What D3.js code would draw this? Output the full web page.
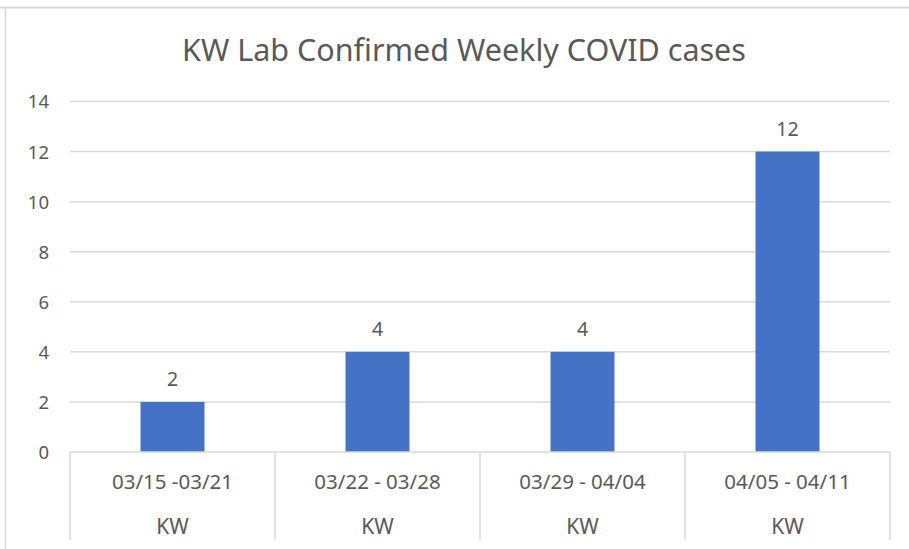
<!DOCTYPE html>
<html>
<head>
<meta charset="utf-8">
<script src="https://cdn.jsdelivr.net/npm/d3@7"></script>
<style>
  body { margin: 0; background: #fff; }
  text { font-family: "Noto Sans", sans-serif; fill: #595959; }
</style>
</head>
<body>
<div id="canvas"></div>
<script>
"use strict"

/* chart values */
const weeks = ["03/15 -03/21", "03/22 - 03/28", "03/29 - 04/04", "04/05 - 04/11"];
const groups = ["KW", "KW", "KW", "KW"];
const cases = [2, 4, 4, 12];
const yTicks = [0, 2, 4, 6, 8, 10, 12, 14];
const title = "KW Lab Confirmed Weekly COVID cases";

let drawing = d3.select("#canvas")
    .append("svg")
    .attr("width", 909)
    .attr("height", 549);

/* chart area border (only top and left show in the crop) */
drawing.append("line")
    .attr("x1", 0).attr("y1", 7.5).attr("x2", 909).attr("y2", 7.5)
    .attr("stroke", "#d9d9d9").attr("stroke-width", 2);
drawing.append("line")
    .attr("x1", 5.5).attr("y1", 7).attr("x2", 5.5).attr("y2", 549)
    .attr("stroke", "#d9d9d9").attr("stroke-width", 1.5);

/* scales */
let x = d3.scaleBand()
    .domain(weeks)
    .range([70, 890])
    .padding(0);

let y = d3.scaleLinear()
    .domain([0, 14])
    .range([452, 101.5]);

/* title */
drawing.append("text")
    .attr("x", 464)
    .attr("y", 61)
    .attr("text-anchor", "middle")
    .attr("font-size", 30.5)
    .text(title);

/* gridlines */
drawing.append("g")
    .selectAll("line")
    .data(yTicks.filter(d => d > 0))
    .join("line")
    .attr("x1", 70)
    .attr("x2", 890)
    .attr("y1", d => y(d))
    .attr("y2", d => y(d))
    .attr("stroke", "#d9d9d9")
    .attr("stroke-width", 1.5);

/* y axis labels */
let yAxis = drawing.append("g")
    .attr("transform", "translate(49,0)")
    .call(d3.axisLeft(y).tickValues(yTicks).tickSize(0).tickPadding(0));
yAxis.select(".domain").remove();
yAxis.selectAll("text")
    .attr("font-size", 18.5)
    .attr("text-anchor", "end")
    .attr("dy", "0.35em")
    .style("font-family", "'Noto Sans', sans-serif")
    .attr("fill", "#595959");

/* bars */
let barWidth = x.bandwidth() * 0.312;
drawing.append("g")
    .selectAll("rect")
    .data(cases)
    .join("rect")
    .attr("x", (d, i) => x(weeks[i]) + x.bandwidth() / 2 - barWidth / 2)
    .attr("y", d => y(d))
    .attr("width", barWidth)
    .attr("height", d => y(0) - y(d))
    .attr("fill", "#4472c4");

/* data labels */
drawing.append("g")
    .selectAll("text")
    .data(cases)
    .join("text")
    .attr("x", (d, i) => x(weeks[i]) + x.bandwidth() / 2)
    .attr("y", d => y(d) - 16)
    .attr("text-anchor", "middle")
    .attr("font-size", 19.5)
    .text(d => d);

/* horizontal axis line */
drawing.append("line")
    .attr("x1", 70).attr("x2", 890)
    .attr("y1", y(0)).attr("y2", y(0))
    .attr("stroke", "#d9d9d9")
    .attr("stroke-width", 1.5);

/* category separators */
let edges = weeks.map(w => x(w)).concat([x(weeks[weeks.length - 1]) + x.bandwidth()]);
drawing.append("g")
    .selectAll("line")
    .data(edges)
    .join("line")
    .attr("x1", d => d).attr("x2", d => d)
    .attr("y1", y(0)).attr("y2", 540)
    .attr("stroke", "#d9d9d9")
    .attr("stroke-width", 1.5);

/* category labels, two levels */
drawing.append("g")
    .selectAll("text")
    .data(weeks)
    .join("text")
    .attr("x", d => x(d) + x.bandwidth() / 2)
    .attr("y", 489)
    .attr("text-anchor", "middle")
    .attr("font-size", 20.5)
    .text(d => d);

drawing.append("g")
    .selectAll("text")
    .data(groups)
    .join("text")
    .attr("x", (d, i) => x(weeks[i]) + x.bandwidth() / 2)
    .attr("y", 534)
    .attr("text-anchor", "middle")
    .attr("font-size", 21)
    .text(d => d);
</script>
</body>
</html>
